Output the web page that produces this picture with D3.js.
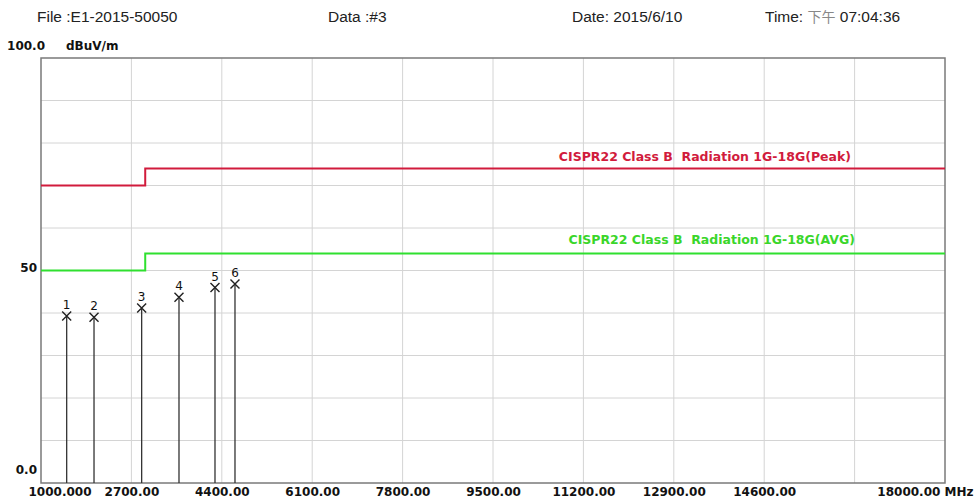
<!DOCTYPE html>
<html>
<head>
<meta charset="utf-8">
<script src="https://cdn.jsdelivr.net/npm/d3@7"></script>
<style>
  body { margin: 0; background: #fff; }
  svg { display: block; }
</style>
</head>
<body>
<script>
'use strict';

// frequency grid (MHz) and tick labels
const freqTicks = [1000, 2700, 4400, 6100, 7800, 9500, 11200, 12900, 14600, 16300, 18000];
const freqLabels = ["1000.000", "2700.00", "4400.00", "6100.00", "7800.00", "9500.00",
  "11200.00", "12900.00", "14600.00", "", "18000.00 MHz"];
const levelTicks = [0, 10, 20, 30, 40, 50, 60, 70, 80, 90, 100];
const levelLabelValues = [0, 50, 100];
const levelLabels = ["0.0", "50", "100.0"];

// limit lines
const limitFreq = [1000, 2960, 2960, 18000];
const peakLimit = [70, 70, 74, 74];
const avgLimit = [50, 50, 54, 54];
const limitNames = ["CISPR22 Class B\u00a0 Radiation 1G-18G(Peak)", "CISPR22 Class B\u00a0 Radiation 1G-18G(AVG)"];

// measured peaks
const markerNo = [1, 2, 3, 4, 5, 6];
const markerFreq = [1483, 1997, 2893, 3595, 4272, 4648];
const markerLevel = [39.3, 39.0, 41.2, 43.7, 46.0, 46.8];

(function() {
  let svg = d3.select('body').append('svg')
    .attr('width', 976)
    .attr('height', 501);

  svg.append('rect').attr('width', 976).attr('height', 501).attr('fill', '#fff');

  let x = d3.scaleLinear().domain([1000, 18000]).range([41, 945]);
  let y = d3.scaleLinear().domain([0, 100]).range([483, 58]);

  // header line
  let head = svg.append('g')
    .style('font-family', '"Liberation Sans", Arial, sans-serif')
    .style('font-size', '15.5px')
    .attr('fill', '#222');
  head.append('text').attr('x', 37).attr('y', 22).text('File :E1-2015-50050');
  head.append('text').attr('x', 328).attr('y', 22).text('Data :#3');
  head.append('text').attr('x', 572).attr('y', 22).text('Date: 2015/6/10');
  let t = head.append('text').attr('x', 765).attr('y', 22);
  t.append('tspan').text('Time: ');
  t.append('tspan').attr('fill', '#888')
    .style('font-family', '"Noto Sans CJK SC", sans-serif')
    .style('font-size', '14px').text('下午');
  t.append('tspan').text(' 07:04:36');

  // grid
  svg.append('g').selectAll('line')
    .data(freqTicks.slice(1, -1))
    .enter().append('line')
    .attr('x1', d => x(d)).attr('x2', d => x(d))
    .attr('y1', y(100)).attr('y2', y(0))
    .attr('stroke', '#d4d4d4').attr('stroke-width', 1);
  svg.append('g').selectAll('line')
    .data(levelTicks.slice(1, -1))
    .enter().append('line')
    .attr('x1', x(1000)).attr('x2', x(18000))
    .attr('y1', d => y(d)).attr('y2', d => y(d))
    .attr('stroke', '#d4d4d4').attr('stroke-width', 1);

  // frame
  svg.append('rect')
    .attr('x', x(1000)).attr('y', y(100))
    .attr('width', x(18000) - x(1000)).attr('height', y(0) - y(100))
    .attr('fill', 'none').attr('stroke', '#7a7a7a').attr('stroke-width', 1.5);

  // x axis labels
  let xAxis = d3.axisBottom(x)
    .tickValues(freqTicks)
    .tickSize(0)
    .tickFormat((d, i) => freqLabels[i]);
  let gx = svg.append('g')
    .attr('transform', 'translate(0,' + y(0) + ')')
    .call(xAxis);
  gx.select('.domain').remove();
  gx.selectAll('text')
    .attr('y', 4)
    .attr('dy', '0.71em')
    .style('font-family', '"DejaVu Sans", sans-serif')
    .style('font-weight', 'bold')
    .style('font-size', '12px')
    .attr('fill', '#111');
  gx.selectAll('text').filter((d, i) => i === 0)
    .attr('text-anchor', 'start').attr('x', -13);
  gx.selectAll('text').filter((d, i) => i === freqTicks.length - 1)
    .attr('text-anchor', 'end').attr('x', 28);

  // y axis labels
  let ly = svg.append('g')
    .style('font-family', '"DejaVu Sans", sans-serif')
    .style('font-weight', 'bold')
    .style('font-size', '12px')
    .attr('fill', '#111');
  ly.selectAll('text')
    .data(levelLabelValues)
    .enter().append('text')
    .attr('x', d => d === 100 ? 45 : 37)
    .attr('y', d => d === 100 ? y(d) - 8 : d === 0 ? y(d) - 9 : y(d) + 1)
    .attr('text-anchor', 'end')
    .text((d, i) => levelLabels[i]);
  ly.append('text').attr('x', 66).attr('y', 50).text('dBuV/m');

  // limit lines
  let line = d3.line()
    .x((d, i) => x(limitFreq[i]))
    .y(d => y(d));
  svg.append('path').attr('d', line(peakLimit))
    .attr('fill', 'none').attr('stroke', '#d11b3c').attr('stroke-width', 2);
  svg.append('path').attr('d', line(avgLimit))
    .attr('fill', 'none').attr('stroke', '#2fe02f').attr('stroke-width', 2);

  let lab = svg.append('g')
    .style('font-family', '"DejaVu Sans", sans-serif')
    .style('font-weight', 'bold')
    .style('font-size', '12.5px')
    .attr('text-anchor', 'end');
  lab.append('text').attr('x', 851).attr('y', y(peakLimit[3]) - 8)
    .attr('fill', '#d11b3c').text(limitNames[0]);
  lab.append('text').attr('x', 855).attr('y', y(avgLimit[3]) - 10)
    .attr('fill', '#3ad62a').text(limitNames[1]);

  // markers
  let mk = svg.append('g').selectAll('g')
    .data(markerNo)
    .enter().append('g')
    .attr('transform', (d, i) => 'translate(' + x(markerFreq[i]) + ',' + y(markerLevel[i]) + ')');
  mk.append('line')
    .attr('x1', 0).attr('x2', 0)
    .attr('y1', 0).attr('y2', (d, i) => y(0) - y(markerLevel[i]))
    .attr('stroke', '#333').attr('stroke-width', 1.3);
  mk.append('path')
    .attr('d', 'M-4.5,-4.5L4.5,4.5M-4.5,4.5L4.5,-4.5')
    .attr('stroke', '#222').attr('stroke-width', 1.4);
  mk.append('text')
    .attr('y', -7)
    .attr('text-anchor', 'middle')
    .style('font-family', '"DejaVu Sans", sans-serif')
    .style('font-size', '12px')
    .attr('fill', '#111')
    .text(d => d);
})();
</script>
</body>
</html>
